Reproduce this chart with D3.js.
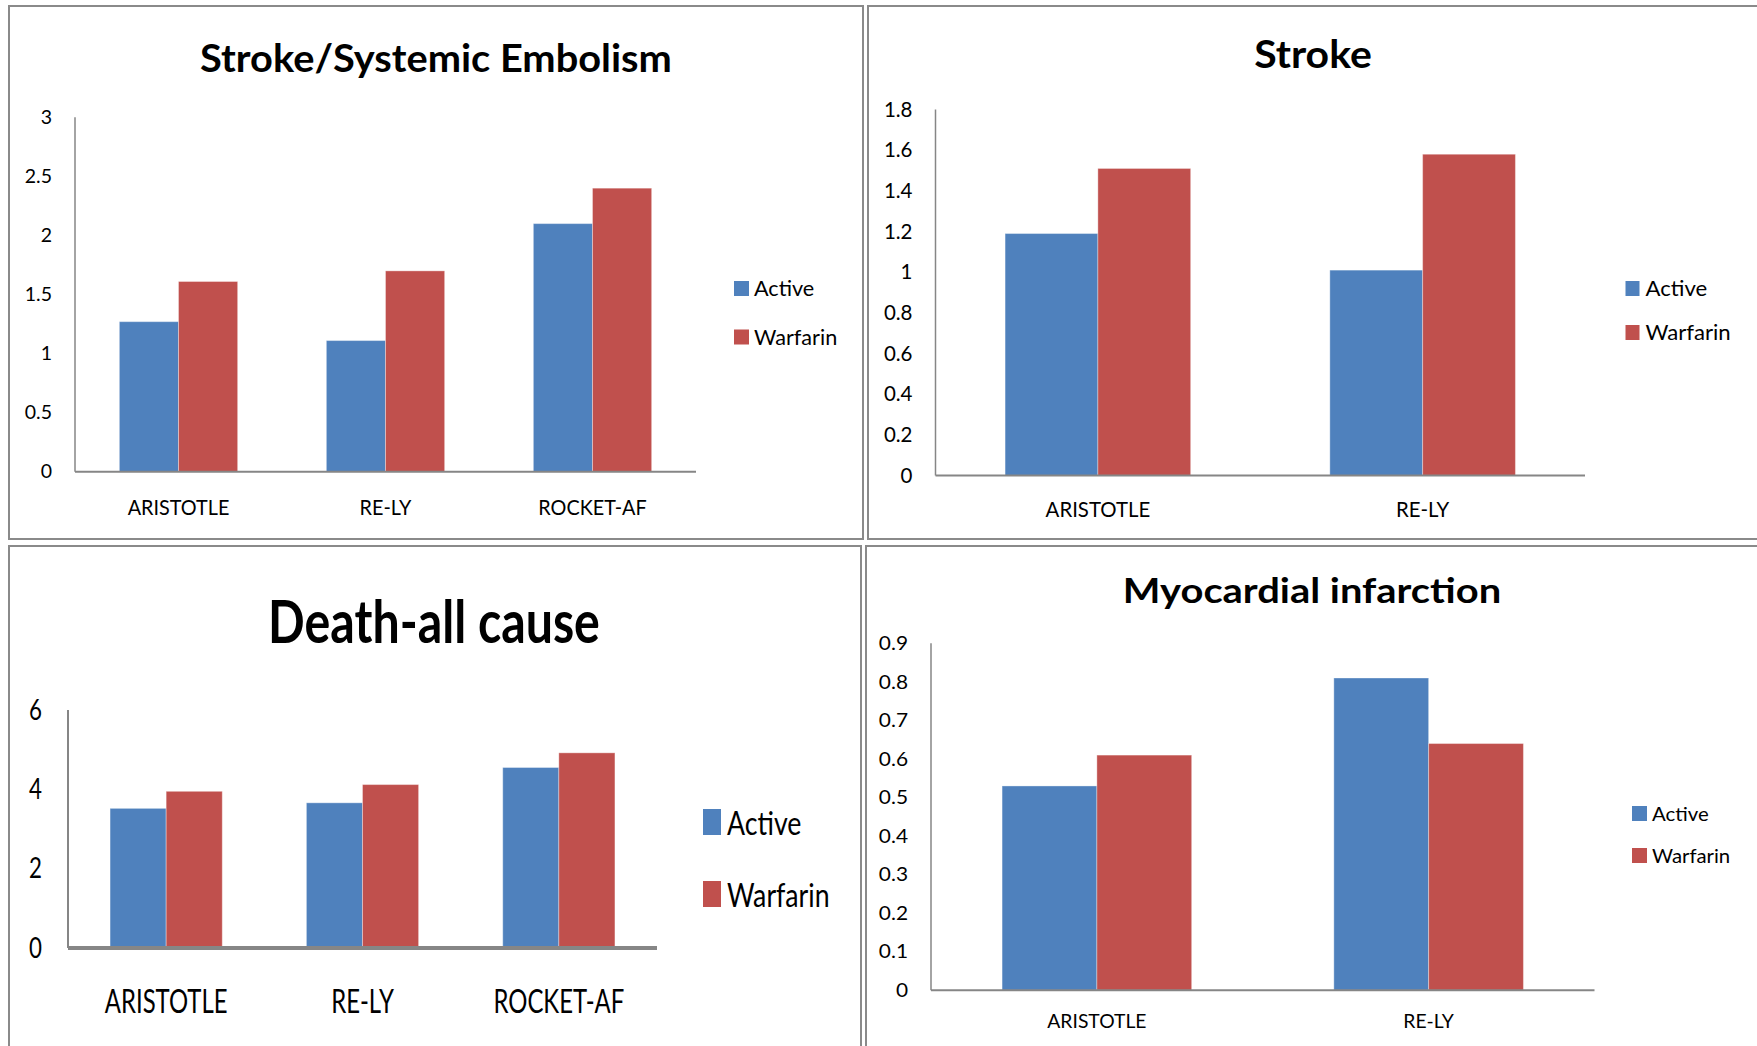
<!DOCTYPE html>
<html>
<head>
<meta charset="utf-8">
<script src="https://cdn.jsdelivr.net/npm/d3@7"></script>
<style>
    body { margin: 0; background: #ffffff; }
    text { font-family: Lato, "Open Sans", sans-serif; fill: #000000; }
</style>
</head>
<body>
<div id="canvas"></div>
<script>
"use strict"

/* data */
let trials3 = ["ARISTOTLE", "RE-LY", "ROCKET-AF"];
let trials2 = ["ARISTOTLE", "RE-LY"];
let seriesNames = ["Active", "Warfarin"];

let strokeSeActive = [1.27, 1.11, 2.1];
let strokeSeWarfarin = [1.61, 1.70, 2.4];

let strokeActive = [1.19, 1.01];
let strokeWarfarin = [1.51, 1.58];

let deathActive = [3.52, 3.66, 4.55];
let deathWarfarin = [3.95, 4.12, 4.92];

let miActive = [0.53, 0.81];
let miWarfarin = [0.61, 0.64];

let ticksStrokeSe = [0, 0.5, 1, 1.5, 2, 2.5, 3];
let ticksStroke = [0, 0.2, 0.4, 0.6, 0.8, 1, 1.2, 1.4, 1.6, 1.8];
let ticksDeath = [0, 2, 4, 6];
let ticksMi = [0, 0.1, 0.2, 0.3, 0.4, 0.5, 0.6, 0.7, 0.8, 0.9];

/* Excel 2007 default colours */
let seriesColors = ["#4F81BD", "#C0504D"];

/* set up the drawing canvas */
let drawing = d3.select("#canvas")
    .append("svg")
    .attr("width", 1757)
    .attr("height", 1046);

drawing.append("rect")
    .attr("width", 1757)
    .attr("height", 1046)
    .attr("fill", "white");

/* squeeze text horizontally, the picture was stretched a bit */
function squeeze(sel, sx) {
    sel.each(function () {
        let w = this.getComputedTextLength();
        d3.select(this)
            .attr("textLength", w * sx)
            .attr("lengthAdjust", "spacingAndGlyphs");
    });
}

function drawPanel(p) {
    let g = drawing.append("g");

    /* panel frame */
    g.append("rect")
        .attr("x", p.frame[0])
        .attr("y", p.frame[1])
        .attr("width", p.frame[2])
        .attr("height", p.frame[3])
        .attr("fill", "none")
        .attr("stroke", "#8a8a8a")
        .attr("stroke-width", 2);

    /* title */
    let title = g.append("text")
        .attr("x", p.titleX)
        .attr("y", p.titleY)
        .attr("text-anchor", "middle")
        .attr("font-weight", "bold")
        .attr("font-size", p.titleSize)
        .text(p.title);
    squeeze(title, p.sx * p.titleSx);

    let x = d3.scaleBand()
        .domain(p.cats)
        .range([p.left, p.right])
        .paddingInner(1.5 / 3.5)
        .paddingOuter(0.75 / 3.5);

    let xs = d3.scaleBand()
        .domain(seriesNames)
        .range([0, x.bandwidth()]);

    let y = d3.scaleLinear()
        .domain([0, p.ticks[p.ticks.length - 1]])
        .range([p.bottom, p.top]);

    let color = d3.scaleOrdinal()
        .domain(seriesNames)
        .range(seriesColors);

    /* bars */
    let rows = [];
    p.cats.forEach(function (c, i) {
        rows.push({ cat: c, series: "Active", value: p.active[i] });
        rows.push({ cat: c, series: "Warfarin", value: p.warfarin[i] });
    });

    g.append("g").selectAll("rect")
        .data(rows)
        .join("rect")
        .attr("x", d => x(d.cat) + xs(d.series))
        .attr("y", d => y(d.value))
        .attr("width", xs.bandwidth())
        .attr("height", d => y(0) - y(d.value))
        .attr("fill", d => color(d.series))
        .attr("stroke", "rgba(255,255,255,0.35)")
        .attr("stroke-width", 1);

    /* value axis */
    let yAxis = g.append("g")
        .attr("transform", "translate(" + p.left + ",0)")
        .call(d3.axisLeft(y)
            .tickValues(p.ticks)
            .tickFormat(d => String(d))
            .tickSize(0)
            .tickPadding(p.yPad));
    yAxis.select(".domain").remove();
    yAxis.selectAll("text")
        .attr("font-family", null)
        .attr("font-size", p.tickSize)
        .attr("fill", "#000");
    squeeze(yAxis.selectAll("text"), p.sx);

    /* category axis */
    let xAxis = g.append("g")
        .attr("transform", "translate(0," + p.bottom + ")")
        .call(d3.axisBottom(x).tickSize(0));
    xAxis.select(".domain").remove();
    xAxis.selectAll("text")
        .attr("font-family", null)
        .attr("font-size", p.catSize)
        .attr("fill", "#000")
        .attr("y", p.catPad)
        .attr("dy", 0);
    squeeze(xAxis.selectAll("text"), p.sx * p.catSx);

    /* axis lines */
    g.append("line")
        .attr("x1", p.left)
        .attr("y1", p.top)
        .attr("x2", p.left)
        .attr("y2", p.bottom)
        .attr("stroke", "#868686")
        .attr("stroke-width", p.yLine);

    g.append("line")
        .attr("x1", p.left)
        .attr("y1", p.bottom)
        .attr("x2", p.right)
        .attr("y2", p.bottom)
        .attr("stroke", "#868686")
        .attr("stroke-width", p.xLine);

    /* legend */
    seriesNames.forEach(function (s, i) {
        g.append("rect")
            .attr("x", p.legX)
            .attr("y", p.legY[i])
            .attr("width", p.legBox[0])
            .attr("height", p.legBox[1])
            .attr("fill", color(s));
        let t = g.append("text")
            .attr("x", p.legX + p.legBox[0] + p.legGap)
            .attr("y", p.legY[i] + p.legBox[1])
            .attr("font-size", p.legSize)
            .text(s);
        squeeze(t, p.sx * p.legSx);
    });
}

/* top left: Stroke/Systemic Embolism */
drawPanel({
    frame: [9, 6, 854, 533],
    title: "Stroke/Systemic Embolism", titleX: 436, titleY: 72, titleSize: 39, titleSx: 1.02,
    cats: trials3, active: strokeSeActive, warfarin: strokeSeWarfarin, ticks: ticksStrokeSe,
    left: 75, right: 696, top: 117.3, bottom: 471.7,
    sx: 1.0, tickSize: 19.5, yPad: 23, catSize: 22, catSx: 0.9, catPad: 43,
    yLine: 1.5, xLine: 2,
    legX: 734, legY: [281, 329.5], legBox: [15, 15], legGap: 5, legSize: 21, legSx: 1.03
});

/* top right: Stroke */
drawPanel({
    frame: [868, 6, 900, 533],
    title: "Stroke", titleX: 1313, titleY: 68, titleSize: 39, titleSx: 1.05,
    cats: trials2, active: strokeActive, warfarin: strokeWarfarin, ticks: ticksStroke,
    left: 935.5, right: 1585, top: 109.5, bottom: 475.5,
    sx: 1.0, tickSize: 20.5, yPad: 23, catSize: 21, catSx: 0.97, catPad: 41.5,
    yLine: 1.5, xLine: 2,
    legX: 1625.5, legY: [281, 325], legBox: [14, 15], legGap: 6, legSize: 21.5, legSx: 1.03
});

/* bottom left: Death-all cause */
drawPanel({
    frame: [9, 546, 852, 520],
    title: "Death-all cause", titleX: 434, titleY: 643, titleSize: 60, titleSx: 1.045,
    cats: trials3, active: deathActive, warfarin: deathWarfarin, ticks: ticksDeath,
    left: 68, right: 657, top: 710, bottom: 948,
    sx: 0.77, tickSize: 29, yPad: 26, catSize: 32, catSx: 0.97, catPad: 65,
    yLine: 2, xLine: 4,
    legX: 703, legY: [809, 881], legBox: [18, 26], legGap: 6, legSize: 33, legSx: 1.05
});

/* bottom right: Myocardial infarction */
drawPanel({
    frame: [866, 546, 900, 520],
    title: "Myocardial infarction", titleX: 1312, titleY: 603, titleSize: 35, titleSx: 1.065,
    cats: trials2, active: miActive, warfarin: miWarfarin, ticks: ticksMi,
    left: 931, right: 1594.5, top: 643.3, bottom: 990.3,
    sx: 1.07, tickSize: 19.5, yPad: 23, catSize: 19, catSx: 0.95, catPad: 38,
    yLine: 1.5, xLine: 2,
    legX: 1632, legY: [806, 848], legBox: [15, 15], legGap: 5, legSize: 19, legSx: 1.0
});
</script>
</body>
</html>
